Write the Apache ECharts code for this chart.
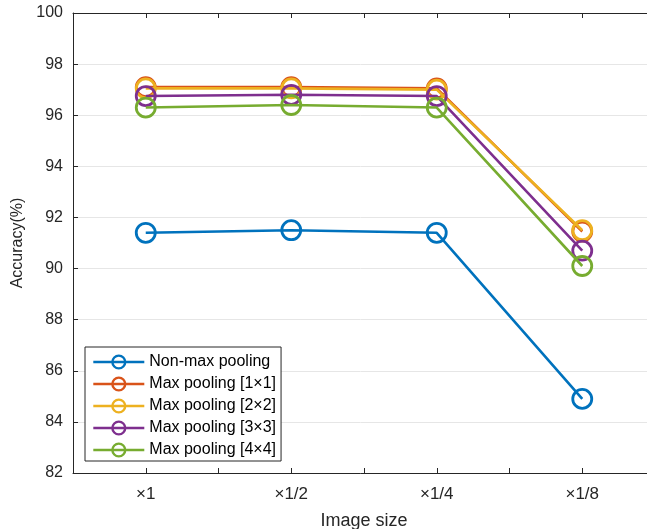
<!DOCTYPE html>
<html>
<head>
<meta charset="utf-8">
<script src="https://cdn.jsdelivr.net/npm/echarts@6/dist/echarts.min.js"></script>
<style>
  html, body { margin: 0; padding: 0; background: #fff; }
  #chart { width: 647px; height: 529px; }
</style>
</head>
<body>
<div id="chart"></div>
<script>
// Image scale factors along the x axis (positions 1..4)
const categories = ['×1', '×1/2', '×1/4', '×1/8'];
const seriesNames = ['Non-max pooling', 'Max pooling [1×1]', 'Max pooling [2×2]', 'Max pooling [3×3]', 'Max pooling [4×4]'];
const nonMax = [91.4, 91.5, 91.4, 84.9];
const max1x1 = [97.1, 97.1, 97.05, 91.45];
const max2x2 = [97.05, 97.05, 97.0, 91.5];
const max3x3 = [96.75, 96.8, 96.75, 90.7];
const max4x4 = [96.3, 96.4, 96.3, 90.1];
const yTicks = [82, 84, 86, 88, 90, 92, 94, 96, 98, 100];

const colors = ['#0072BD', '#D95319', '#EDB120', '#7E2F8E', '#77AC30'];
const values = [nonMax, max1x1, max2x2, max3x3, max4x4];
const axisColor = '#262626';
const font = 'Liberation Sans, Arial, Helvetica, sans-serif';

const chart = echarts.init(document.getElementById('chart'), null, { renderer: 'canvas' });

// Open (unfilled) circle markers so overlapping marks stay visible
const series = values.map((vals, i) => ({
  name: seriesNames[i],
  type: 'line',
  data: vals.map((v, k) => [k + 1, v]),
  symbol: 'circle',
  symbolSize: 19,
  showAllSymbol: true,
  lineStyle: { color: colors[i], width: 2.6 },
  itemStyle: { color: 'rgba(255,255,255,0)', borderColor: colors[i], borderWidth: 2.8 },
  emphasis: { disabled: true },
  z: 2 + i
}));

function xLabel(v) {
  if (Math.abs(v - Math.round(v)) > 1e-6) return '';
  const label = categories[Math.round(v) - 1];
  return label !== undefined ? label : '';
}

const legendData = seriesNames.map((name, i) => ({
  name: name,
  itemStyle: { color: 'rgba(255,255,255,0)', borderColor: colors[i], borderWidth: 2.4 },
  lineStyle: { color: colors[i], width: 2.6 }
}));

chart.setOption({
  animation: false,
  backgroundColor: '#fff',
  textStyle: { fontFamily: font },
  // the plot box runs past the right edge of the canvas
  grid: { left: 73, top: 13, width: 582, height: 460, containLabel: false, outerBoundsMode: 'none' },
  legend: {
    orient: 'vertical',
    left: 85,
    top: 347,
    data: legendData,
    itemWidth: 51,
    itemHeight: 16,
    itemGap: 6,
    padding: [7, 5, 3, 7],
    borderColor: axisColor,
    borderWidth: 1,
    borderRadius: 0,
    backgroundColor: '#fff',
    textStyle: { fontFamily: font, fontSize: 16, color: '#000' },
    selectedMode: false,
    z: 10
  },
  xAxis: [{
    type: 'value',
    min: 0.5,
    max: 4.5,
    interval: 0.5,
    name: 'Image size',
    nameLocation: 'middle',
    nameGap: 39,
    nameTextStyle: { fontFamily: font, fontSize: 18, color: axisColor },
    axisLine: { show: true, onZero: false, lineStyle: { color: axisColor, width: 1 } },
    axisTick: { show: true, inside: true, length: 5, lineStyle: { color: axisColor } },
    axisLabel: { formatter: xLabel, fontFamily: font, fontSize: 17, color: axisColor, margin: 13 },
    splitLine: { show: false }
  }, {
    type: 'value',
    position: 'top',
    min: 0.5,
    max: 4.5,
    interval: 0.5,
    axisLine: { show: true, onZero: false, lineStyle: { color: axisColor, width: 1 } },
    axisTick: { show: true, inside: true, length: 5, lineStyle: { color: axisColor } },
    axisLabel: { show: false },
    splitLine: { show: false }
  }],
  yAxis: {
    type: 'value',
    min: yTicks[0],
    max: yTicks[yTicks.length - 1],
    interval: 2,
    name: 'Accuracy(%)',
    nameLocation: 'middle',
    nameGap: 45,
    nameTextStyle: { fontFamily: font, fontSize: 16, color: axisColor },
    axisLine: { show: true, onZero: false, lineStyle: { color: axisColor, width: 1 } },
    axisTick: { show: true, inside: true, length: 5, lineStyle: { color: axisColor } },
    axisLabel: { fontFamily: font, fontSize: 16, color: axisColor, margin: 10 },
    splitLine: { show: true, lineStyle: { color: '#e6e6e6', width: 1 } }
  },
  series: series
});
</script>
</body>
</html>
